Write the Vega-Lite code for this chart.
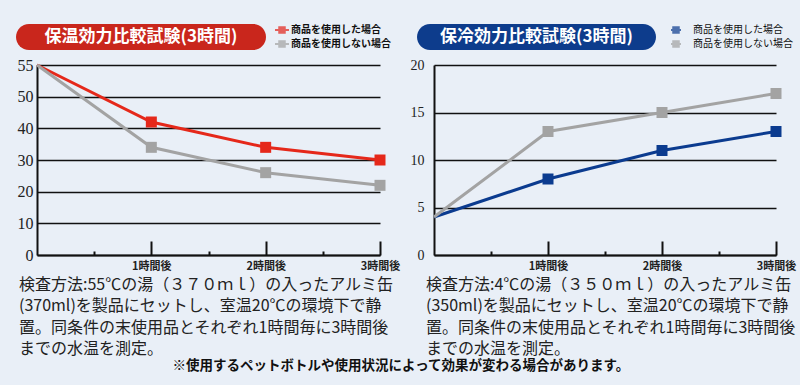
{
  "$schema": "https://vega.github.io/schema/vega-lite/v6.json",
  "background": "#e9eff7",
  "padding": {"left": 16, "top": 24, "right": 4, "bottom": 12},
  "config": {
    "font": "Noto Sans CJK JP",
    "view": {"stroke": null}
  },
  "title": {
    "text": "※使用するペットボトルや使用状況によって効果が変わる場合があります。",
    "orient": "bottom",
    "anchor": "middle",
    "fontSize": 13.5,
    "fontWeight": "bold",
    "color": "#111111",
    "offset": 2,
    "dx": -5
  },
  "resolve": {
    "scale": {"color": "independent", "fill": "independent", "stroke": "independent"},
    "legend": {"color": "independent", "fill": "independent", "stroke": "independent"}
  },
  "spacing": 6,
  "vconcat": [
    {
      "bounds": "flush",
      "spacing": 151,
      "resolve": {
        "scale": {"fill": "independent", "stroke": "independent"},
        "legend": {"fill": "independent", "stroke": "independent"}
      },
      "hconcat": [
        {
          "width": 250,
          "height": 26,
          "data": {"values": [{"t": "保温効力比較試験(3時間)"}]},
          "layer": [
            {"mark": {"type": "rect", "cornerRadius": 13, "color": "#c9261c"}, "encoding": {}},
            {"mark": {"type": "text", "color": "#ffffff", "fontSize": 17, "fontWeight": "bold"}, "encoding": {"text": {"field": "t"}}},
            {
              "data": {"values": []},
              "mark": {"type": "point", "filled": true},
              "encoding": {
                "fill": {"field": "s", "type": "nominal", "scale": {"domain": ["商品を使用した場合", "商品を使用しない場合"], "range": ["#e2231a", "#a3a3a3"]},
                  "legend": {"title": null, "orient": "right", "offset": 10, "padding": 0, "symbolType": "M-1.4,0H1.4M-0.55,-0.55H0.55V0.55H-0.55Z", "symbolSize": 100, "symbolStrokeWidth": 2, "labelFontSize": 10, "labelFontWeight": "bold", "labelColor": "#111111", "labelOffset": 3, "rowPadding": 0}},
                "stroke": {"field": "s", "type": "nominal", "scale": {"domain": ["商品を使用した場合", "商品を使用しない場合"], "range": ["#e2231a", "#a3a3a3"]},
                  "legend": {"title": null, "orient": "right", "offset": 10, "padding": 0, "symbolType": "M-1.4,0H1.4M-0.55,-0.55H0.55V0.55H-0.55Z", "symbolSize": 100, "symbolStrokeWidth": 2, "labelFontSize": 10, "labelFontWeight": "bold", "labelColor": "#111111", "labelOffset": 3, "rowPadding": 0}}
              }
            }
          ]
        },
        {
          "width": 239,
          "height": 26,
          "data": {"values": [{"t": "保冷効力比較試験(3時間)"}]},
          "layer": [
            {"mark": {"type": "rect", "cornerRadius": 13, "color": "#0d3c8c"}, "encoding": {}},
            {"mark": {"type": "text", "color": "#ffffff", "fontSize": 17, "fontWeight": "bold"}, "encoding": {"text": {"field": "t"}}},
            {
              "data": {"values": []},
              "mark": {"type": "point", "filled": true},
              "encoding": {
                "fill": {"field": "s", "type": "nominal", "scale": {"domain": ["商品を使用した場合", "商品を使用しない場合"], "range": ["#0b3b8f", "#a3a3a3"]},
                  "legend": {"title": null, "orient": "right", "offset": 14, "padding": 0, "symbolType": "M-1,0H1M-0.55,-0.55H0.55V0.55H-0.55Z", "symbolSize": 100, "symbolStrokeWidth": 2, "labelFontSize": 10, "labelFontWeight": "normal", "labelColor": "#111111", "labelOffset": 11, "rowPadding": 0}},
                "stroke": {"field": "s", "type": "nominal", "scale": {"domain": ["商品を使用した場合", "商品を使用しない場合"], "range": ["#0b3b8f", "#a3a3a3"]},
                  "legend": {"title": null, "orient": "right", "offset": 14, "padding": 0, "symbolType": "M-1,0H1M-0.55,-0.55H0.55V0.55H-0.55Z", "symbolSize": 100, "symbolStrokeWidth": 2, "labelFontSize": 10, "labelFontWeight": "normal", "labelColor": "#111111", "labelOffset": 11, "rowPadding": 0}}
              }
            }
          ]
        }
      ]
    },
    {
      "spacing": 0,
      "resolve": {
        "scale": {"color": "independent"},
        "legend": {"color": "independent"}
      },
      "hconcat": [
        {
          "width": 1,
          "height": 1,
          "data": {"values": []},
          "mark": {"type": "point"},
          "encoding": {}
        },
        {
          "spacing": 10,
          "resolve": {
            "scale": {"color": "independent"},
            "legend": {"color": "independent"}
          },
          "hconcat": [
            {
              "width": 343,
              "height": 190,
              "data": {"values": [
                {"s": "商品を使用した場合", "h": 0, "v": 55},
                {"s": "商品を使用した場合", "h": 1, "v": 42},
                {"s": "商品を使用した場合", "h": 2, "v": 34},
                {"s": "商品を使用した場合", "h": 3, "v": 30},
                {"s": "商品を使用しない場合", "h": 0, "v": 55},
                {"s": "商品を使用しない場合", "h": 1, "v": 34},
                {"s": "商品を使用しない場合", "h": 2, "v": 26},
                {"s": "商品を使用しない場合", "h": 3, "v": 22}
              ]},
              "title": {
                "text": ["検査方法:55℃の湯（３７０ｍｌ）の入ったアルミ缶", "(370ml)を製品にセットし、室温20℃の環境下で静", "置。同条件の末使用品とそれぞれ1時間毎に3時間後", "までの水温を測定。"],
                "orient": "bottom", "anchor": "start", "frame": "group", "dx": -18, "offset": -4,
                "fontSize": 16, "fontWeight": "normal", "lineHeight": 21.3, "color": "#222222"
              },
              "encoding": {
                "x": {"field": "h", "type": "quantitative", "scale": {"domain": [0, 3], "nice": false},
                  "axis": {"values": [0.5, 1, 1.5, 2, 2.5, 3], "title": null, "grid": false, "domainColor": "#111111", "domainWidth": 2,
                    "tickColor": "#111111", "tickWidth": 2, "tickSize": {"condition": {"test": "datum.value % 1 === 0", "value": -14}, "value": -4},
                    "labelExpr": "datum.value % 1 === 0 ? datum.value + '時間後' : ''", "labelFontSize": 11, "labelFontWeight": "bold", "labelColor": "#222222",
                    "labelPadding": 19, "labelFlush": false, "labelOverlap": false, "labelBound": false}},
                "y": {"field": "v", "type": "quantitative", "scale": {"domain": [0, 50, 55], "range": [190, 31.67, 0]},
                  "axis": {"values": [0, 10, 20, 30, 40, 50, 55], "title": null, "grid": true, "gridColor": "#111111", "gridWidth": 1.5, "ticks": false,
                    "domainColor": "#111111", "domainWidth": 2, "labelFont": "Liberation Sans Narrow", "labelFontSize": 16, "labelColor": "#222222", "labelPadding": 4}},
                "color": {"field": "s", "type": "nominal", "scale": {"domain": ["商品を使用した場合", "商品を使用しない場合"], "range": ["#e5281a", "#a3a3a3"]}, "legend": null}
              },
              "layer": [
                {"mark": {"type": "line", "strokeWidth": 3}, "encoding": {}},
                {"transform": [{"filter": "datum.h > 0"}], "mark": {"type": "point", "shape": "square", "filled": true, "size": 121, "opacity": 1}, "encoding": {}}
              ]
            },
            {
              "width": 342,
              "height": 190,
              "data": {"values": [
                {"s": "商品を使用した場合", "h": 0, "v": 4},
                {"s": "商品を使用した場合", "h": 1, "v": 8},
                {"s": "商品を使用した場合", "h": 2, "v": 11},
                {"s": "商品を使用した場合", "h": 3, "v": 13},
                {"s": "商品を使用しない場合", "h": 0, "v": 4},
                {"s": "商品を使用しない場合", "h": 1, "v": 13},
                {"s": "商品を使用しない場合", "h": 2, "v": 15},
                {"s": "商品を使用しない場合", "h": 3, "v": 17}
              ]},
              "title": {
                "text": ["検査方法:4℃の湯（３５０ｍｌ）の入ったアルミ缶", "(350ml)を製品にセットし、室温20℃の環境下で静", "置。同条件の末使用品とそれぞれ1時間毎に3時間後", "までの水温を測定。"],
                "orient": "bottom", "anchor": "start", "frame": "group", "dx": -8, "offset": -4,
                "fontSize": 16, "fontWeight": "normal", "lineHeight": 21.3, "color": "#222222"
              },
              "encoding": {
                "x": {"field": "h", "type": "quantitative", "scale": {"domain": [0, 3], "nice": false},
                  "axis": {"values": [0.5, 1, 1.5, 2, 2.5, 3], "title": null, "grid": false, "domainColor": "#111111", "domainWidth": 2,
                    "tickColor": "#111111", "tickWidth": 2, "tickSize": {"condition": {"test": "datum.value % 1 === 0", "value": -14}, "value": -4},
                    "labelExpr": "datum.value % 1 === 0 ? datum.value + '時間後' : ''", "labelFontSize": 11, "labelFontWeight": "bold", "labelColor": "#222222",
                    "labelPadding": 19, "labelFlush": false, "labelOverlap": false, "labelBound": false}},
                "y": {"field": "v", "type": "quantitative", "scale": {"domain": [0, 20], "nice": false},
                  "axis": {"values": [0, 5, 10, 15, 20], "title": null, "grid": true, "gridColor": "#111111", "gridWidth": 1.5, "ticks": false,
                    "domainColor": "#111111", "domainWidth": 2, "labelFont": "Liberation Sans Narrow", "labelFontSize": 14, "labelColor": "#222222", "labelPadding": 10}},
                "color": {"field": "s", "type": "nominal", "scale": {"domain": ["商品を使用した場合", "商品を使用しない場合"], "range": ["#0b3b8f", "#a3a3a3"]}, "legend": null}
              },
              "layer": [
                {"mark": {"type": "line", "strokeWidth": 3}, "encoding": {}},
                {"transform": [{"filter": "datum.h > 0"}], "mark": {"type": "point", "shape": "square", "filled": true, "size": 121, "opacity": 1}, "encoding": {}}
              ]
            }
          ]
        }
      ]
    }
  ]
}
